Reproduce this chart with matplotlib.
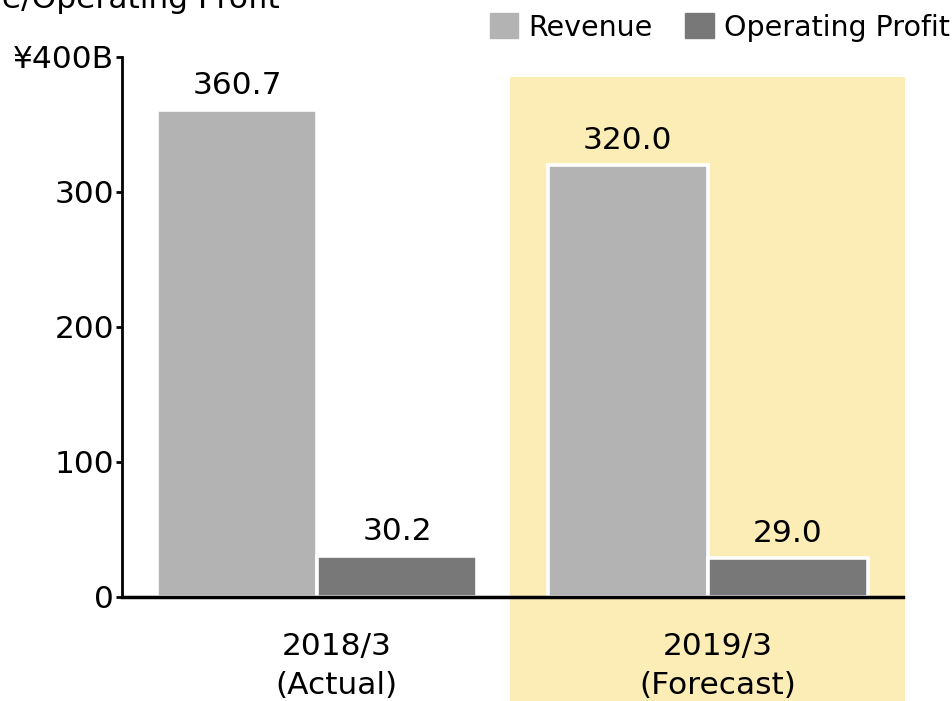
import matplotlib.pyplot as plt
from matplotlib.patches import Rectangle, Patch
import matplotlib.transforms as mtransforms

# data
periods = ['2018/3\n(Actual)', '2019/3\n(Forecast)']
revenue = [360.7, 320.0]
op_profit = [30.2, 29.0]
rev_labels = ['360.7', '320.0']
op_labels = ['30.2', '29.0']
y_ticks = [0, 100, 200, 300, 400]
y_ticklabels = ['0', '100', '200', '300', '¥400B']

rev_color = '#b3b3b3'
op_color = '#787878'
hl_color = '#fcecb6'
fs = 22.5

fig = plt.figure(figsize=(9.52, 7.01), dpi=100)
ax = fig.add_axes([0.128, 0.1484, 0.8205, 0.7703])

x = [0, 1]
w = 0.41

# forecast highlight, reaches below the axis
trans = mtransforms.blended_transform_factory(ax.transData, fig.transFigure)
bg = Rectangle((0.495, 0), 1.01, 0.89, transform=trans, facecolor=hl_color,
               edgecolor='none', zorder=-1, clip_on=False)
fig.patches.append(bg)

ax.patch.set_alpha(0)
ax.bar([i - w / 2 for i in x], revenue, w, color=rev_color, edgecolor='white', linewidth=2.6, zorder=2)
ax.bar([i + w / 2 for i in x], op_profit, w, color=op_color, edgecolor='white', linewidth=2.6, zorder=2)

for i in x:
    ax.annotate(rev_labels[i], (i - w / 2, revenue[i]), xytext=(0, 11.5), textcoords='offset points',
                ha='center', va='baseline', fontsize=fs)
    ax.annotate(op_labels[i], (i + w / 2, op_profit[i]), xytext=(0, 11.5), textcoords='offset points',
                ha='center', va='baseline', fontsize=fs)

ax.set_xlim(-0.5, 1.5)
ax.set_ylim(0, 400)
ax.set_yticks(y_ticks)
ax.set_yticklabels(y_ticklabels, fontsize=fs)
ax.set_xticks([0.049, 1.026])
ax.set_xticklabels(periods, fontsize=fs, linespacing=1.45)
ax.tick_params(axis='x', length=0, pad=25)
ax.tick_params(axis='y', length=4, width=2, pad=1.5)

for s in ['top', 'right']:
    ax.spines[s].set_visible(False)
ax.spines['left'].set_linewidth(2)
ax.spines['bottom'].set_linewidth(2.5)
ax.spines['bottom'].set_zorder(3)

fig.text(280 / 952, 1 - 8 / 701, 'Revenue/Operating Profit', ha='right', va='baseline', fontsize=fs)

handles = [Patch(color=rev_color, label='Revenue'), Patch(color=op_color, label='Operating Profit')]
fig.legend(handles=handles, loc='upper right', bbox_to_anchor=(1.0245, 1.018), ncol=2, frameon=False,
           fontsize=20.5, handlelength=1.0, handleheight=1.0, handletextpad=0.35, columnspacing=1.15)

fig.savefig('out.png', dpi=100)
